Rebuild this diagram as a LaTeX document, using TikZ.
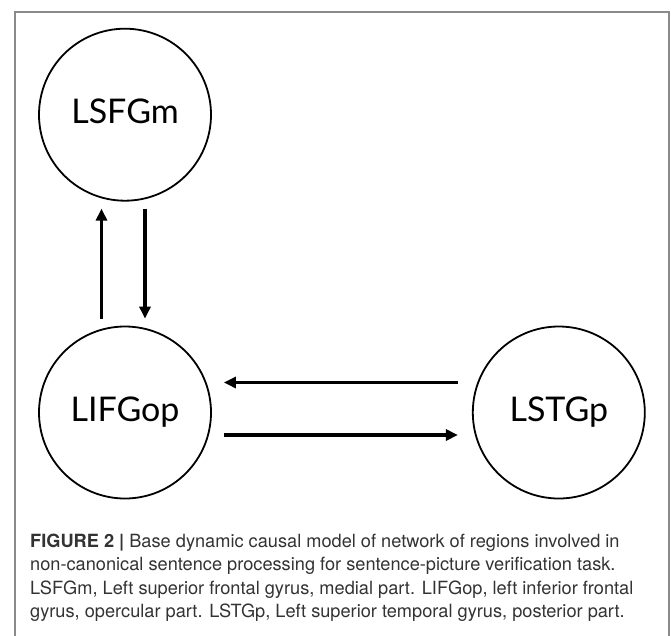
\documentclass[tikz,border=0pt]{standalone}
\usepackage{fontspec}
\usepackage{tikz}
\usetikzlibrary{positioning,arrows.meta}
\newfontfamily\regionfont{Lato}
\newfontfamily\captionfont{TeX Gyre Heros}
\definecolor{framegray}{HTML}{8A8A8A}
\definecolor{captiongray}{HTML}{333333}

\begin{document}
\begin{tikzpicture}[
        x=1pt, y=-1pt,
        node distance=124pt and 260pt,
        region_style/.style={draw=black, line width=1.8pt, circle, minimum size=172pt, inner sep=0pt, align=center, font=\regionfont\fontsize{34}{34}\selectfont, text height=18pt, text depth=0pt},
        arrow_style/.style={line width=3.8pt, -{Triangle[length=12pt,width=11pt]}, shorten >=7pt, shorten <=7pt},
        caption_style/.style={anchor=base west, inner sep=0pt, text=captiongray, font=\captionfont\fontsize{18.2}{24}\selectfont}
    ]

    % Frame
    \useasboundingbox (0,0) rectangle (671,635);
    \draw[framegray, line width=1.5pt] (15,640) -- (15,12) -- (669,12) -- (669,640);

    % Regions
    \node[region_style] (LIFGop) at (125,412.5) {LIFGop};
    \node[region_style, above=of LIFGop] (LSFGm) {LSFGm};
    \node[region_style, right=of LIFGop] (LSTGp) {LSTGp};

    % Connections between LIFGop and LSFGm
    \draw[arrow_style] ([xshift=-23.5pt]LIFGop.north) -- ([xshift=-23.5pt]LSFGm.south);
    \draw[arrow_style] ([xshift=20pt]LSFGm.south) -- ([xshift=20pt]LIFGop.north);

    % Connections between LIFGop and LSTGp
    \draw[arrow_style, shorten <=14pt, shorten >=12pt] ([yshift=30pt]LSTGp.west) -- ([yshift=30pt]LIFGop.east);
    \draw[arrow_style, shorten <=12pt, shorten >=14pt] ([yshift=-22.5pt]LIFGop.east) -- ([yshift=-22.5pt]LSTGp.west);

    % Caption
    \node[caption_style] (cap_line1) at (30,547) {\textbf{FIGURE 2 |} Base dynamic causal model of network of regions involved in};
    \node[caption_style] (cap_line2) at (30,570.5) {non-canonical sentence processing for sentence-picture verification task.};
    \node[caption_style] (cap_line3) at (30,594) {LSFGm, Left superior frontal gyrus, medial part. LIFGop, left inferior frontal};
    \node[caption_style] (cap_line4) at (30,617.5) {gyrus, opercular part. LSTGp, Left superior temporal gyrus, posterior part.};

\end{tikzpicture}
\end{document}
